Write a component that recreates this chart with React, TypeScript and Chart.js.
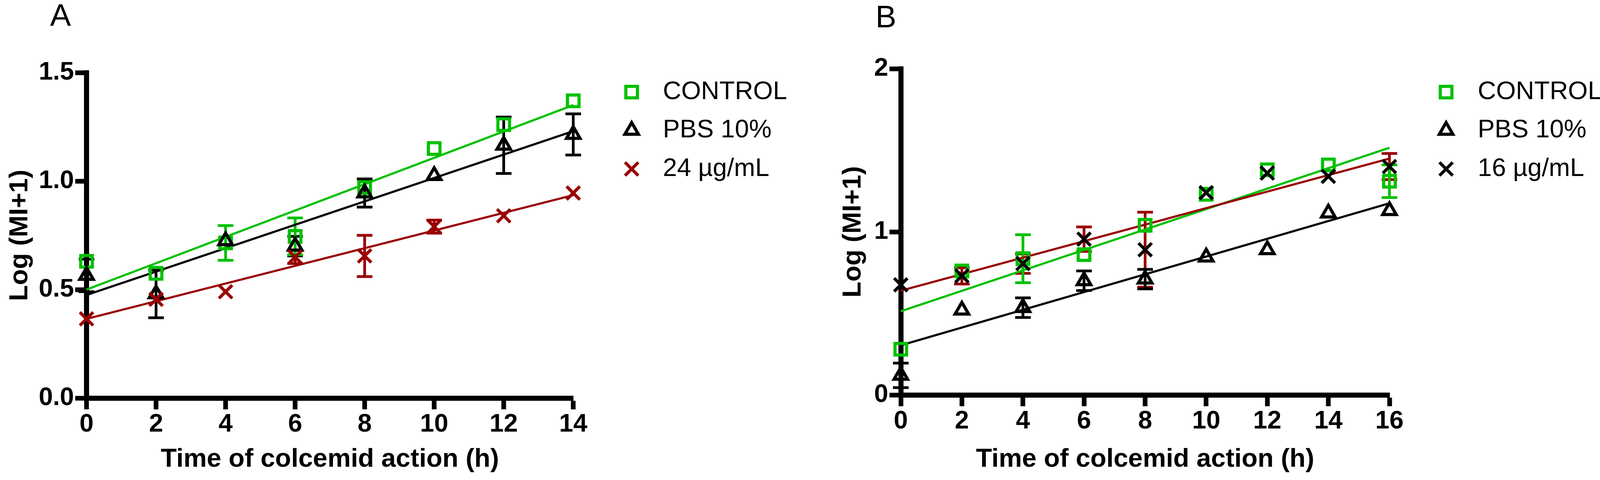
import React, { useEffect, useRef } from 'react';
import { Chart, registerables } from 'chart.js';
import { drawPoint } from 'chart.js/helpers';

Chart.register(...registerables);

// ---- Panel A (24 µg/mL) ----
const hoursA = [0, 2, 4, 6, 8, 10, 12, 14];
const controlA = [0.63, 0.575, 0.715, 0.745, 0.97, 1.15, 1.26, 1.37];
const controlSemA = [0, 0, 0.08, 0.085, 0, 0, 0, 0];
const pbsA = [0.565, 0.48, 0.725, 0.7, 0.945, 1.025, 1.165, 1.215];
const pbsSemA = [0.075, 0.11, 0, 0.045, 0.065, 0, 0.13, 0.095];
const drugA = [0.365, 0.455, 0.49, 0.65, 0.655, 0.79, 0.84, 0.945];
const drugSemA = [0, 0, 0, 0.03, 0.095, 0.03, 0, 0];
const fitHoursA = [0, 14];
const controlFitA = [0.5, 1.35];
const pbsFitA = [0.475, 1.23];
const drugFitA = [0.365, 0.935];
const xTicksA = [0, 2, 4, 6, 8, 10, 12, 14];
const yTicksA = [0, 0.5, 1, 1.5];

// ---- Panel B (16 µg/mL) ----
const hoursB = [0, 2, 4, 6, 8, 10, 12, 14, 16];
const controlB = [0.28, 0.76, 0.835, 0.86, 1.04, 1.23, 1.38, 1.41, 1.31];
const controlSemB = [0, 0, 0.147, 0, 0, 0, 0, 0, 0.1];
const pbsB = [0.12, 0.52, 0.535, 0.7, 0.71, 0.845, 0.89, 1.115, 1.13];
const pbsSemB = [0.075, 0, 0.06, 0.06, 0.06, 0, 0, 0, 0];
const drugB = [0.675, 0.73, 0.805, 0.955, 0.89, 1.24, 1.36, 1.34, 1.4];
const drugSemB = [0, 0.05, 0.06, 0.075, 0.23, 0, 0, 0, 0.08];
const fitHoursB = [0, 16];
const controlFitB = [0.513, 1.515];
const pbsFitB = [0.304, 1.175];
const drugFitB = [0.639, 1.449];
const xTicksB = [0, 2, 4, 6, 8, 10, 12, 14, 16];
const yTicksB = [0, 1, 2];

const GREEN = '#00c000';
const RED = '#990000';
const BLACK = '#000000';
const FONT = 'Arial, "Liberation Sans", Helvetica, sans-serif';
const H = 1230;

type PanelSpec = {
  offset: number;
  width: number;
  left: number;
  top: number;
  right: number;
  bottom: number;
  yTitlePad: number;
  hours: number[];
  control: number[];
  controlSem: number[];
  pbs: number[];
  pbsSem: number[];
  drug: number[];
  drugSem: number[];
  fitHours: number[];
  controlFit: number[];
  pbsFit: number[];
  drugFit: number[];
  xTicks: number[];
  yTicks: number[];
  yDecimals: number;
  drugLabel: string;
  drugMarker: string;
  letter: string;
  letterX: number;
  letterY: number;
  markerX: number;
  textX: number;
  legendY: number[];
};

const panelA: PanelSpec = {
  offset: 0, width: 2050,
  left: 221.5, top: 186, right: 1467.5, bottom: 1020,
  yTitlePad: 11,
  hours: hoursA, control: controlA, controlSem: controlSemA,
  pbs: pbsA, pbsSem: pbsSemA, drug: drugA, drugSem: drugSemA,
  fitHours: fitHoursA, controlFit: controlFitA, pbsFit: pbsFitA, drugFit: drugFitA,
  xTicks: xTicksA, yTicks: yTicksA, yDecimals: 1,
  drugLabel: '24 µg/mL', drugMarker: RED,
  letter: 'A', letterX: 155, letterY: 44,
  markerX: 1617, textX: 1697, legendY: [236, 334, 433],
};

const panelB: PanelSpec = {
  offset: 2050, width: 2052,
  left: 256, top: 176, right: 1507, bottom: 1012,
  yTitlePad: 94,
  hours: hoursB, control: controlB, controlSem: controlSemB,
  pbs: pbsB, pbsSem: pbsSemB, drug: drugB, drugSem: drugSemB,
  fitHours: fitHoursB, controlFit: controlFitB, pbsFit: pbsFitB, drugFit: drugFitB,
  xTicks: xTicksB, yTicks: yTicksB, yDecimals: 0,
  drugLabel: '16 µg/mL', drugMarker: BLACK,
  letter: 'B', letterX: 218, letterY: 48,
  markerX: 1652, textX: 1733, legendY: [236, 334, 433],
};

const pts = (xs: number[], ys: number[]) => xs.map((x, i) => ({ x, y: ys[i] }));

// vertical SEM bars with caps, placed through the chart scales
const errorBars = {
  id: 'errorBars',
  beforeDatasetsDraw(chart: any) {
    const { ctx, scales } = chart;
    chart.data.datasets.forEach((ds: any) => {
      if (!ds.errors) return;
      ctx.save();
      ctx.strokeStyle = ds.errorColor;
      ctx.lineWidth = 7;
      ds.data.forEach((p: any, j: number) => {
        const e = ds.errors[j];
        if (!e) return;
        const px = scales.x.getPixelForValue(p.x);
        const top = scales.y.getPixelForValue(p.y + e);
        const bot = scales.y.getPixelForValue(p.y - e);
        ctx.beginPath();
        ctx.moveTo(px, top);
        ctx.lineTo(px, bot);
        ctx.moveTo(px - 20, top);
        ctx.lineTo(px + 20, top);
        ctx.moveTo(px - 20, bot);
        ctx.lineTo(px + 20, bot);
        ctx.stroke();
      });
      ctx.restore();
    });
  },
};

function extras(spec: PanelSpec) {
  const items = [
    { label: 'CONTROL', style: 'rect', radius: 21, color: GREEN },
    { label: 'PBS 10%', style: 'triangle', radius: 20, color: BLACK },
    { label: spec.drugLabel, style: 'crossRot', radius: 24, color: spec.drugMarker },
  ];
  return {
    id: 'extras',
    afterDraw(chart: any) {
      const { ctx } = chart;
      ctx.save();
      ctx.fillStyle = '#000';
      ctx.textBaseline = 'middle';
      ctx.textAlign = 'center';
      ctx.font = `80px ${FONT}`;
      ctx.fillText(spec.letter, spec.letterX, spec.letterY);
      items.forEach((it, i) => {
        const y = spec.legendY[i];
        ctx.strokeStyle = it.color;
        ctx.fillStyle = 'rgba(0,0,0,0)';
        ctx.lineWidth = 8;
        drawPoint(ctx, { pointStyle: it.style as any, radius: it.radius, borderWidth: 8, rotation: 0 } as any, spec.markerX, y);
        ctx.fillStyle = '#000';
        ctx.textAlign = 'left';
        ctx.font = `65px ${FONT}`;
        ctx.fillText(it.label, spec.textX, y);
      });
      ctx.restore();
    },
  };
}

function buildConfig(spec: PanelSpec): any {
  const marker = (label: string, ys: number[], errs: number[], style: string, radius: number, color: string, errColor: string) => ({
    label,
    data: pts(spec.hours, ys),
    errors: errs,
    errorColor: errColor,
    showLine: false,
    pointStyle: style,
    pointRadius: radius,
    pointHoverRadius: radius,
    pointBorderWidth: 8,
    pointBorderColor: color,
    pointBackgroundColor: 'rgba(0,0,0,0)',
    borderColor: color,
    clip: false,
  });
  const fit = (ys: number[], color: string) => ({
    data: pts(spec.fitHours, ys),
    showLine: true,
    pointRadius: 0,
    borderWidth: 5.5,
    borderColor: color,
    tension: 0,
    fill: false,
    clip: false,
  });
  const tickFont = { family: FONT, size: 65, weight: 'bold' as const };
  const titleFont = { family: FONT, size: 67, weight: 'bold' as const };
  const grid = {
    display: true,
    drawOnChartArea: false,
    drawTicks: true,
    tickLength: 29,
    tickWidth: 12,
    tickColor: '#000',
    color: '#000',
  };
  const border = { display: true, color: '#000', width: 13 };
  return {
    type: 'scatter',
    data: {
      datasets: [
        marker(spec.drugLabel, spec.drug, spec.drugSem, 'crossRot', 24, spec.drugMarker, RED),
        marker('PBS 10%', spec.pbs, spec.pbsSem, 'triangle', 20, BLACK, BLACK),
        marker('CONTROL', spec.control, spec.controlSem, 'rect', 21, GREEN, GREEN),
        fit(spec.drugFit, RED),
        fit(spec.pbsFit, BLACK),
        fit(spec.controlFit, GREEN),
      ],
    },
    options: {
      responsive: false,
      animation: false,
      events: [],
      layout: { padding: { left: 0, top: spec.top, right: spec.width - spec.right, bottom: 0 } },
      plugins: { legend: { display: false }, tooltip: { enabled: false } },
      scales: {
        x: {
          type: 'linear',
          min: 0,
          max: spec.xTicks[spec.xTicks.length - 1],
          afterBuildTicks: (s: any) => { s.ticks = spec.xTicks.map((value) => ({ value })); },
          afterFit: (s: any) => { s.height = H - spec.bottom; },
          border,
          grid,
          ticks: { color: '#000', font: tickFont, padding: 0, maxRotation: 0, autoSkip: false },
          title: { display: true, text: 'Time of colcemid action (h)', color: '#000', font: titleFont, padding: { top: 0, bottom: 12 } },
        },
        y: {
          type: 'linear',
          min: 0,
          max: spec.yTicks[spec.yTicks.length - 1],
          afterBuildTicks: (s: any) => { s.ticks = spec.yTicks.map((value) => ({ value })); },
          afterFit: (s: any) => { s.width = spec.left; },
          border,
          grid,
          ticks: {
            color: '#000',
            font: tickFont,
            padding: 3,
            autoSkip: false,
            callback: (v: any) => Number(v).toFixed(spec.yDecimals),
          },
          title: { display: true, text: 'Log (MI+1)', color: '#000', font: titleFont, padding: { top: spec.yTitlePad, bottom: 0 } },
        },
      },
    },
    plugins: [errorBars, extras(spec)],
  };
}

function Panel({ spec }: { spec: PanelSpec }) {
  const canvasRef = useRef<HTMLCanvasElement>(null);

  useEffect(() => {
    if (!canvasRef.current) return;
    const chart = new Chart(canvasRef.current, buildConfig(spec));
    return () => chart.destroy();
  }, [spec]);

  return (
    <canvas
      ref={canvasRef}
      width={spec.width}
      height={H}
      style={{ position: 'absolute', left: spec.offset, top: 0, width: spec.width, height: H }}
    />
  );
}

export default function App() {
  return (
    <div style={{ position: 'absolute', left: 0, top: 0, width: 4102, height: H, background: '#fff', overflow: 'hidden' }}>
      <Panel spec={panelA} />
      <Panel spec={panelB} />
    </div>
  );
}
